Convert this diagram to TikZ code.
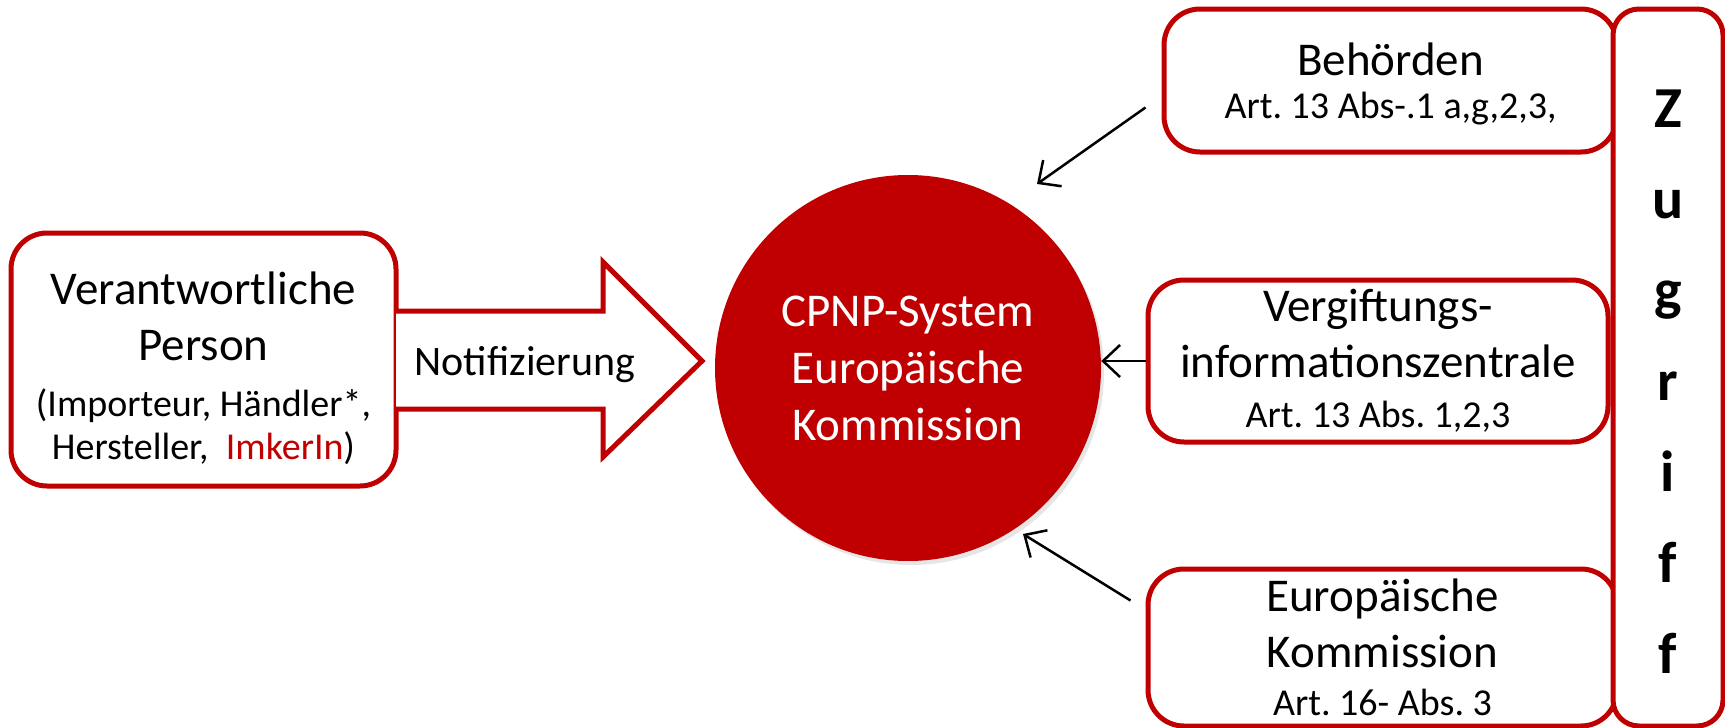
\documentclass[tikz,border=0pt]{standalone}
\usepackage{fontspec}
\setmainfont{Carlito}
\usetikzlibrary{arrows.meta, shadows}
\definecolor{cpnpred}{RGB}{192,0,0}
\newcommand{\cpnpbig}{\fontsize{47}{56}\selectfont}
\newcommand{\cpnpsmall}{\fontsize{38}{43}\selectfont}
\tikzset{>={Straight Barb[length=17pt,width=32pt]}}
\frenchspacing

\begin{document}
\begin{tikzpicture}[x=1pt, y=-1pt, line join=miter,
    box/.style={draw=cpnpred, line width=5pt, fill=white, rounded corners=36pt, align=center, font=\cpnpbig, inner sep=0pt},
    acc/.style={->, line width=2.5pt}]
  \useasboundingbox (0,0) rectangle (1725,728);
  % meldende Seite
  \node[box, minimum width=385, minimum height=253] (vp) at (203.5,359.5) {\rule{0pt}{50pt}Verantwortliche\\Person\\{\cpnpsmall(Importeur, Händler*,}\\[-13pt]{\cpnpsmall Hersteller,~~\textcolor{cpnpred}{ImkerIn})}};
  \draw[draw=cpnpred, line width=5pt, fill=white] (396,311) -- (603,311) -- (603,262) -- (702,361) -- (603,457) -- (603,409) -- (396,409);
  \node[font=\fontsize{42}{50}\selectfont] (notif) at (525,365) {Notifizierung};
  % System
  \node[circle, fill=cpnpred, minimum size=386pt, inner sep=0pt, text=white, align=center, font=\fontsize{47}{57}\selectfont,
    drop shadow={opacity=0.2, shadow xshift=3pt, shadow yshift=-4pt}] (cpnp) at (908,368) {CPNP-System\\Europäische\\Kommission};
  % Zugriff
  \node[box, minimum width=453, minimum height=143] (beh) at (1390.5,80.5) {\rule{0pt}{40pt}Behörden\\[-13pt]{\cpnpsmall Art. 13 Abs-.1 a,g,2,3,}};
  \node[box, minimum width=460, minimum height=162] (verg) at (1378,361) {Vergiftungs-\\informationszentrale\\[-6pt]{\cpnpsmall Art. 13 Abs. 1,2,3}};
  \node[box, minimum width=469, minimum height=157] (eu) at (1382.5,647.5) {Europäische\\Kommission\\[-8pt]{\cpnpsmall Art. 16- Abs. 3}};
  \node[box, rounded corners=26pt, minimum width=110, minimum height=717] (zbar) at (1668,367.5) {};
  \foreach \zl [count=\i] in {Z,u,g,r,i,f,f}
    \node[font=\bfseries\fontsize{58}{60}\selectfont, anchor=base] (z\i) at (1668,{127+91*(\i-1)}) {\zl};
  \draw[acc] ([shift={(-16,27)}]beh.west) -- ([shift={(129,-184)}]cpnp.center);
  \draw[acc] (verg.west) -- (verg.west -| cpnp.east);
  \draw[acc] ([shift={(-15,-47)}]eu.west) -- ([shift={(115,166)}]cpnp.center);
\end{tikzpicture}
\end{document}
